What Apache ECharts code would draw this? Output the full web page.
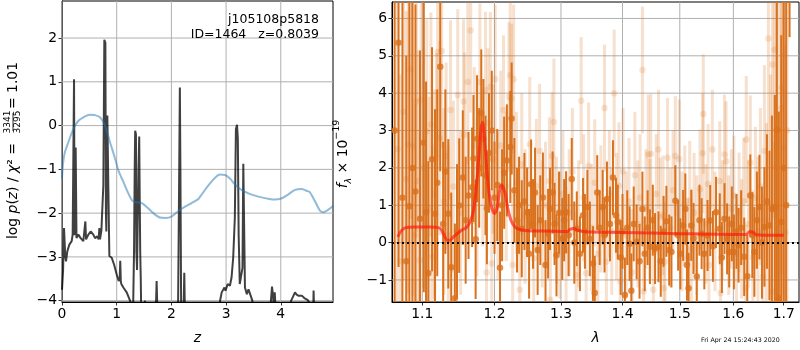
<!DOCTYPE html>
<html><head><meta charset="utf-8">
<script src="https://cdn.jsdelivr.net/npm/echarts@6/dist/echarts.min.js"></script>
<style>html,body{margin:0;padding:0;background:#fff}#c{width:800px;height:350px}</style>
</head><body><div id="c"></div><script>
// ---------- Left panel: redshift PDF ----------
const zGrid = [0.0,0.02,0.037,0.05,0.06,0.073,0.098,0.134,0.177,0.195,0.21,0.22,0.23,0.238,0.25,0.256,0.265,0.274,0.299,0.341,0.39,0.41,0.427,0.44,0.445,0.482,0.524,0.573,0.604,0.646,0.67,0.683,0.695,0.707,0.72,0.732,0.756,0.774,0.793,0.803,0.811,0.82,0.829,0.845,0.854,0.86,0.866,0.909,0.951,1.0,1.037,1.055,1.065,1.075,1.085,1.122,1.183,1.213,1.244,1.274,1.3,1.317,1.33,1.338,1.352,1.36,1.372,1.384,1.398,1.412,1.42,1.43,1.44,1.451,1.5,1.518,1.535,1.71,1.73,1.75,2.12,2.14,2.155,2.165,2.18,2.22,2.236,2.25,2.85,2.89,2.92,2.97,2.99,3.03,3.07,3.10,3.13,3.16,3.18,3.20,3.215,3.23,3.25,3.28,3.30,3.315,3.33,3.345,3.38,3.41,3.44,3.48,3.52,3.8,3.82,3.84,3.855,3.87,3.89,3.91,4.15,4.19,4.22,4.26,4.29,4.33,4.39,4.43,4.49,4.55,4.59,4.60,4.615,4.95];
const logPz = [-3.75,-3.3,-2.34,-2.35,-3.0,-3.1,-2.87,-2.72,-2.64,-2.49,-2.5,1.06,-2.5,-2.42,-0.5,-0.53,-2.57,-2.57,-2.49,-2.57,-2.64,-2.6,-2.19,-2.6,-2.57,-2.49,-2.42,-2.49,-2.57,-2.53,-2.6,-2.34,-2.6,-2.57,-2.4,-2.42,-1.36,1.96,1.89,-2.0,-2.42,0.1,0.23,0.2,0.19,-2.5,-2.98,-3.02,-3.17,-3.4,-3.55,-3.5,-3.09,-3.55,-3.62,-3.7,-3.81,-3.77,-4.0,-4.15,-4.2,-2.87,-0.9,-0.12,-0.2,-2.87,-3.3,-3.28,-1.0,-0.25,-1.5,-2.87,-3.5,-4.5,-4.3,-4.0,-4.5,-4.5,-3.55,-4.5,-4.5,-1.5,0.87,-1.0,-4.5,-4.4,-3.36,-4.5,-4.5,-4.0,-3.81,-3.7,-3.77,-3.62,-3.66,-3.47,-3.02,-2.11,-0.08,0.02,-0.3,-2.49,-3.62,-3.62,-3.25,-0.87,-0.87,-3.7,-3.85,-3.74,-3.85,-4.0,-4.5,-4.5,-4.0,-3.68,-3.85,-4.1,-3.81,-4.3,-4.3,-4.0,-3.92,-3.81,-3.86,-3.89,-3.89,-3.94,-3.98,-4.1,-4.5,-3.77,-4.5,-4.5];
const zChi = [0,0.02,0.055,0.116,0.207,0.3,0.39,0.51,0.6,0.695,0.787,0.878,0.97,1.03,1.12,1.213,1.29,1.366,1.457,1.56,1.67,1.79,1.9,2.0,2.13,2.25,2.37,2.49,2.55,2.68,2.8,2.89,2.98,3.07,3.16,3.28,3.41,3.53,3.65,3.77,3.89,4.02,4.14,4.26,4.38,4.47,4.53,4.63,4.72,4.78,4.87,4.96];
const chiScaled = [-1.2,-0.85,-0.6,-0.38,-0.08,0.11,0.19,0.25,0.24,0.19,0.0,-0.38,-0.75,-1.02,-1.28,-1.55,-1.72,-1.75,-1.77,-1.87,-2.0,-2.1,-2.11,-2.08,-1.95,-1.85,-1.77,-1.68,-1.58,-1.36,-1.19,-1.12,-1.13,-1.21,-1.34,-1.47,-1.55,-1.6,-1.64,-1.67,-1.69,-1.66,-1.57,-1.47,-1.45,-1.49,-1.52,-1.74,-1.95,-1.98,-1.92,-1.83];
const zTicks = [0,1,2,3,4];
const pTicks = [-4,-3,-2,-1,0,1,2];
const zRange = [0, 4.955];
const pRange = [-4.03, 2.846];

// ---------- Right panel: spectrum ----------
const darkLam = [1.064,1.069,1.074,1.079,1.083,1.087,1.091,1.097,1.102,1.105,
1.108,1.113,1.117,1.120,1.124,1.128,1.131,1.135,1.139,1.144,
1.147,1.150,1.155,1.159,1.163,1.168,1.170,1.173,1.175,1.178,
1.181,1.184,1.187,1.189,1.192,1.196,1.200,1.204,1.208,1.211,
1.214,1.218,1.223,1.225,1.229,1.233,1.236,1.240,1.244,1.248,
1.251,1.254,1.257,1.260,1.264,1.268,1.272,1.276,1.280,1.283,
1.287,1.290,1.293,1.297,1.302,1.305,1.308,1.312,1.317,1.321,
1.325,1.330,1.335,1.338,1.342,1.346,1.351,1.354,1.358,1.362,
1.367,1.370,1.374,1.379,1.384,1.389,1.392,1.397,1.400,1.404,
1.408,1.412,1.415,1.419,1.424,1.429,1.434,1.438,1.443,1.447,
1.452,1.456,1.462,1.466,1.471,1.476,1.481,1.485,1.492,1.497,
1.501,1.506,1.510,1.513,1.516,1.521,1.525,1.531,1.536,1.540,
1.545,1.551,1.556,1.561,1.567,1.574,1.578,1.583,1.588,1.592,
1.597,1.601,1.606,1.610,1.615,1.621,1.627,1.633,1.637,1.641,
1.646,1.651,1.656,1.661,1.666,1.671,1.676,1.682,1.686,1.690,
1.695,1.700,1.705,1.712];
const darkFlux = [3.0,5.35,1.2,-0.5,0.97,2.0,1.37,0.64,2.67,0.81,
-0.82,2.23,0.77,1.6,4.71,0.5,1.9,0.77,-0.66,-1.49,
0.3,0.99,1.74,0.6,1.26,1.48,2.25,0.09,2.78,2.0,
3.47,2.78,1.8,0.92,2.4,3.0,1.2,1.54,-0.67,1.0,
1.87,2.2,2.56,3.32,1.4,0.6,1.0,0.37,1.1,0.81,
-0.3,1.56,0.5,1.34,-0.2,0.6,1.21,-0.6,0.24,0.9,
1.34,0.5,-0.34,0.8,0.1,0.6,0.81,0.2,1.7,0.0,
0.37,-0.3,0.73,0.3,0.95,0.1,-0.56,-1.35,1.34,0.4,
0.95,0.2,1.17,0.5,1.74,0.73,0.55,-0.4,0.3,-1.4,
0.4,-0.03,-1.29,0.5,0.02,-0.5,0.9,-0.3,0.4,-0.11,
0.6,-0.16,-0.11,-0.5,0.3,0.57,-0.2,-0.25,1.12,0.2,
-0.3,0.46,0.9,-0.6,-1.22,0.46,0.11,-0.91,0.6,0.24,
-0.3,0.19,0.59,-0.1,0.81,0.37,-0.4,0.64,0.1,-0.25,
0.5,-0.25,0.3,-0.07,0.4,-0.38,-0.9,1.26,0.2,-0.25,
0.6,0.95,0.0,0.42,1.1,0.46,0.9,0.95,3.02,-1.49,
0.55,2.0,1.0,9.0];
const darkErr = [6,6,5.5,5.5,5.5,5,5,4.5,4,3.5,
3,3,2.8,2.5,2.8,2.2,2.2,2,2,2,
1.8,1.8,1.8,1.7,1.7,1.6,1.7,1.6,1.7,1.6,
1.7,1.6,1.6,1.5,1.6,1.6,1.5,1.5,1.5,1.5,
1.5,1.5,1.5,1.5,1.4,1.4,1.3,1.3,1.3,1.2,
1.2,1.2,1.2,1.2,1.2,1.2,1.2,1.2,1.2,1.1,
1.1,1.1,1.1,1.1,1.1,1.1,1.1,1.1,1.1,1.1,
1,1,1,1,1,1,1,1,1,1,
1,1,1,1,1,1,1,1,1,1,
1,1,1,1,1,1,1,1,1,1,
0.95,0.95,0.95,0.95,0.95,0.95,0.95,0.95,0.95,0.95,
0.95,0.95,0.95,0.95,0.95,0.95,0.95,0.95,0.95,0.95,
0.95,0.95,0.95,0.95,0.95,0.95,0.95,0.95,0.95,0.95,
1,1,1,1,1,1.05,1.1,1.1,1.15,1.2,
1.3,1.4,1.5,1.6,1.8,2.0,2.5,3.0,5.0,5.0,
5,6,6,3.5];
const lightLam = [1.0675,1.0715,1.0755,1.0790,1.0815,1.0845,1.0875,1.0905,1.0925,1.0945,
1.0965,1.0985,1.1015,1.1060,1.1090,1.1115,1.1135,1.1165,1.1190,1.1205,
1.1235,1.1260,1.1290,1.1320,1.1350,1.1380,1.1420,1.1480,1.1520,1.1560,
1.1575,1.1620,1.1660,1.1710,1.1750,1.1790,1.1830,1.1870,1.1885,1.1905,
1.1940,1.1960,1.1980,1.2010,1.2050,1.2090,1.2130,1.2170,1.2210,1.2230,
1.2250,1.2265,1.2280,1.2320,1.2370,1.2400,1.2450,1.2520,1.2580,1.2620,
1.2670,1.2710,1.2760,1.2820,1.2835,1.2860,1.2890,1.2930,1.2980,1.3030,
1.3080,1.3130,1.3180,1.3240,1.3280,1.3320,1.3360,1.3400,1.3440,1.3490,
1.3540,1.3590,1.3640,1.3700,1.3730,1.3780,1.3820,1.3860,1.3900,1.3940,
1.3960,1.4010,1.4060,1.4110,1.4160,1.4210,1.4260,1.4300,1.4340,1.4360,
1.4400,1.4440,1.4470,1.4485,1.4530,1.4580,1.4620,1.4650,1.4700,1.4715,
1.4735,1.4780,1.4830,1.4880,1.4920,1.4990,1.5040,1.5090,1.5140,1.5180,
1.5210,1.5260,1.5310,1.5370,1.5420,1.5430,1.5480,1.5520,1.5535,1.5600,
1.5650,1.5740,1.5755,1.5790,1.5830,1.5860,1.5910,1.5960,1.6010,1.6060,
1.6110,1.6160,1.6200,1.6240,1.6250,1.6290,1.6330,1.6380,1.6430,1.6480,
1.6530,1.6580,1.6610,1.6650,1.6690,1.6730,1.6770,1.6780,1.6810,1.6850,
1.6900,1.6950,1.6960,1.6990,1.7030,1.7070];
const lightFlux = [2.5,-0.5,3.5,1.7,2.63,4.63,2.58,0.2,3.78,1.65,
-0.47,3.82,2.0,2.98,0.9,3.16,-0.38,1.3,2.27,5.1,
2.8,5.13,1.1,2.32,0.2,3.55,1.5,3.95,0.8,3.78,
2.89,4.3,5.68,2.6,1.2,4.3,2.0,4.08,-0.8,3.2,
4.17,-0.56,2.23,4.37,1.0,2.6,3.55,1.5,3.9,4.48,
3.86,-0.6,4.37,1.6,-1.26,2.1,0.7,2.63,-0.42,1.51,
2.45,0.5,1.0,1.65,-1.53,2.32,3.23,0.6,0.2,1.3,
-0.2,0.8,1.9,-0.87,0.5,3.8,1.2,-0.82,2.05,0.4,
1.6,-0.3,0.9,3.6,-0.51,1.3,0.3,4.0,0.7,1.52,
-1.04,1.9,0.2,1.1,-0.8,1.8,0.5,1.2,4.62,-1.31,
0.9,2.36,0.64,2.38,-1.26,1.3,2.49,0.68,0.73,-1.22,
-0.51,2.27,0.4,1.4,2.32,2.23,0.3,1.0,-0.4,1.12,
-0.16,0.8,0.2,1.43,2.39,3.44,0.5,1.57,-0.6,2.49,
0.3,1.65,-1.35,0.6,2.36,2.18,0.2,0.9,1.26,-0.3,
0.81,0.1,1.1,-1.22,2.76,0.5,2.14,-0.4,1.2,0.3,
1.5,-0.91,2.45,0.6,5.46,1.0,4.77,-1.31,5.16,2.0,
3.0,3.6,4.15,2.52,0.28,3.0];
const lightErr = [5,5,4.5,4.5,4,4,4,3.5,3.5,3.5,
3.5,3.5,3.2,3,3,3,3,2.8,2.8,2.8,
2.6,2.6,2.5,2.5,2.4,2.4,2.3,2.3,2.2,2.2,
2.2,2.2,2.2,2.1,2.1,2.1,2.1,2.1,2,2,
2,2,2,2,2,2,2,2,2,2,
2,2,2,1.9,1.9,1.9,1.8,1.8,1.8,1.8,
1.8,1.7,1.7,1.7,1.7,1.7,1.7,1.7,1.7,1.7,
1.7,1.7,1.7,1.7,1.7,1.7,1.7,1.7,1.7,1.7,
1.7,1.7,1.7,1.7,1.7,1.7,1.7,1.7,1.7,1.7,
1.7,1.7,1.7,1.7,1.7,1.7,1.7,1.7,1.7,1.7,
1.6,1.6,1.6,1.6,1.6,1.6,1.6,1.6,1.6,1.6,
1.6,1.6,1.6,1.6,1.6,1.6,1.6,1.6,1.6,1.6,
1.6,1.6,1.6,1.6,1.6,1.6,1.6,1.6,1.6,1.6,
1.6,1.6,1.6,1.6,1.6,1.6,1.6,1.6,1.6,1.6,
1.6,1.6,1.7,1.7,1.7,1.7,1.8,1.8,1.9,2.0,
2.1,2.2,2.3,2.6,3,3.5,4,4,4.5,5,
5,5,5,5,5,6];
const modelLam = [1.068,1.072,1.078,1.09,1.10,1.11,1.118,1.124,1.128,1.133,1.137,1.142,1.148,1.155,1.16,1.165,1.17,1.174,1.178,1.181,1.183,1.186,1.19,1.195,1.2,1.204,1.207,1.21,1.215,1.219,1.224,1.23,1.237,1.25,1.28,1.31,1.315,1.32,1.326,1.34,1.4,1.5,1.6,1.625,1.632,1.638,1.645,1.66,1.70];
const modelFlux = [0.15,0.3,0.4,0.42,0.42,0.42,0.41,0.38,0.25,0.07,0.06,0.15,0.25,0.35,0.4,0.55,0.85,1.5,2.4,3.1,3.22,2.7,1.7,1.0,0.78,0.95,1.35,1.55,1.35,0.95,0.6,0.42,0.35,0.32,0.31,0.3,0.36,0.38,0.33,0.29,0.27,0.24,0.22,0.22,0.3,0.28,0.21,0.2,0.2];
const lamTicks = [1.1,1.2,1.3,1.4,1.5,1.6,1.7];
const fTicks = [-1,0,1,2,3,4,5,6];
const lamRange = [1.0606, 1.7316];
const fRange = [-1.59, 6.44];

// ---------- build ----------
const FONT = 'DejaVu Sans';
const DARK = '#d9711d';
const LIGHT = 'rgba(217,113,29,0.22)';
const GRIDC = '#b0b0b0';
const lg = v => Math.log10(v);
const zip = (a, b) => a.map((v, i) => [v, b[i]]);
const minus = s => String(s).replace('-', '\u2212');

function axisCommon(ticks, fmt) {
  return {
    axisLine: {show: true, onZero: false, lineStyle: {color: '#000', width: 1}},
    axisTick: {show: true, length: 3.5, lineStyle: {color: '#000', width: 0.8}, customValues: ticks},
    axisLabel: {color: '#000', fontFamily: FONT, fontSize: 13.9, margin: 5, customValues: ticks, formatter: fmt},
    splitLine: {show: false}
  };
}
// grid lines: one broken line series per panel, at the tick values, spanning the axis range
function gridSeries(idx, xs, ys, xr, yr) {
  const d = [];
  xs.forEach(v => { d.push([v, yr[0]], [v, yr[1]], [v, '-']); });
  ys.forEach(v => { d.push([xr[0], v], [xr[1], v], ['-', v]); });
  return {type: 'line', xAxisIndex: idx, yAxisIndex: idx, data: d, symbol: 'none',
    connectNulls: false, clip: true, z: 10,
    lineStyle: {color: GRIDC, width: 1}};
}
function barRender(color, w) {
  return function (params, api) {
    const x = api.value(0), lo = api.value(1), hi = api.value(2);
    const p1 = api.coord([x, lo]), p2 = api.coord([x, hi]);
    const cs = params.coordSys;
    const r = echarts.graphic.clipRectByRect(
      {x: p1[0] - w / 2, y: p2[1], width: w, height: p1[1] - p2[1]},
      {x: cs.x, y: cs.y, width: cs.width, height: cs.height});
    if (!r) return null;
    return {type: 'rect', shape: r, style: {fill: color}};
  };
}
const barData = (lam, f, e) => lam.map((l, i) => [lg(l), f[i] - e[i], f[i] + e[i]]);
const dotData = (lam, f) => lam.map((l, i) => [lg(l), f[i]]);

const chart = echarts.init(document.getElementById('c'), null, {renderer: 'canvas'});
chart.setOption({
  animation: false,
  backgroundColor: '#fff',
  grid: [
    {left: 62, top: 1, right: 467, bottom: 46, show: true, backgroundColor: 'transparent', borderColor: '#000', borderWidth: 1},
    {left: 392, top: 2, right: 1, bottom: 46, show: true, backgroundColor: 'transparent', borderColor: '#000', borderWidth: 1}
  ],
  xAxis: [
    Object.assign({type: 'value', gridIndex: 0, min: zRange[0], max: zRange[1],
      name: 'z', nameLocation: 'middle', nameGap: 29,
      nameTextStyle: {fontFamily: FONT, fontSize: 13.9, fontStyle: 'italic', color: '#000'}},
      axisCommon(zTicks, v => minus(v))),
    Object.assign({type: 'value', gridIndex: 1, min: lg(lamRange[0]), max: lg(lamRange[1]),
      name: 'λ', nameLocation: 'middle', nameGap: 29,
      nameTextStyle: {fontFamily: FONT, fontSize: 13.9, fontStyle: 'italic', color: '#000'}},
      axisCommon(lamTicks.map(lg), v => Math.pow(10, v).toFixed(1)))
  ],
  yAxis: [
    Object.assign({type: 'value', gridIndex: 0, min: pRange[0], max: pRange[1]}, axisCommon(pTicks, v => minus(v))),
    Object.assign({type: 'value', gridIndex: 1, min: fRange[0], max: fRange[1]}, axisCommon(fTicks, v => minus(v)))
  ],
  series: [
    gridSeries(0, zTicks, pTicks, zRange, pRange),
    gridSeries(1, lamTicks.map(lg), fTicks, lamRange.map(lg), fRange),
    {type: 'line', xAxisIndex: 0, yAxisIndex: 0, data: zip(zGrid, logPz), symbol: 'none',
      lineStyle: {color: 'rgba(0,0,0,0.75)', width: 2}, clip: true, z: 12},
    {type: 'line', xAxisIndex: 0, yAxisIndex: 0, data: zip(zChi, chiScaled), symbol: 'none', smooth: 0.3,
      lineStyle: {color: 'rgba(31,119,180,0.5)', width: 2}, clip: true, z: 12},
    {type: 'custom', xAxisIndex: 1, yAxisIndex: 1, data: barData(lightLam, lightFlux, lightErr),
      renderItem: barRender(LIGHT, 3), encode: {x: 0, y: [1, 2]}, z: 11},
    {type: 'scatter', xAxisIndex: 1, yAxisIndex: 1, data: dotData(lightLam, lightFlux), symbolSize: 6.5,
      itemStyle: {color: LIGHT}, clip: true, z: 11},
    {type: 'custom', xAxisIndex: 1, yAxisIndex: 1, data: barData(darkLam, darkFlux, darkErr),
      renderItem: barRender(DARK, 2), encode: {x: 0, y: [1, 2]}, z: 12},
    {type: 'scatter', xAxisIndex: 1, yAxisIndex: 1, data: dotData(darkLam, darkFlux), symbolSize: 6.5,
      itemStyle: {color: DARK}, clip: true, z: 12},
    {type: 'line', xAxisIndex: 1, yAxisIndex: 1, data: dotData(modelLam, modelFlux), symbol: 'none', smooth: 0.3,
      lineStyle: {color: 'rgba(255,20,10,0.65)', width: 3}, clip: true, z: 13,
      markLine: {silent: true, symbol: 'none', label: {show: false}, z: 14,
        lineStyle: {color: '#000', type: [2, 3], width: 2}, data: [{yAxis: 0}]}}
  ],
  graphic: [
    {type: 'text', x: 319, y: 20, z: 20, style: {text: 'j105108p5818', font: '12.5px "DejaVu Sans"', fill: '#000', align: 'right', verticalAlign: 'middle'}},
    {type: 'text', x: 319, y: 35, z: 20, style: {text: 'ID=1464   z=0.8039', font: '12.5px "DejaVu Sans"', fill: '#000', align: 'right', verticalAlign: 'middle'}},
    {type: 'group', x: 13, y: 153, rotation: Math.PI / 2, children: [
      {type: 'text', x: -86, y: 0, style: {
        text: '{a|log }{i|p}{a|(}{i|z}{a|) / }{i|χ}{a|² =}',
        rich: {a: {fontFamily: FONT, fontSize: 13.9, fill: '#000'}, i: {fontFamily: FONT, fontSize: 13.9, fontStyle: 'italic', fill: '#000'}},
        align: 'left', verticalAlign: 'middle'}},
      {type: 'text', x: 31, y: -5, style: {text: '3341', font: '9px "DejaVu Sans"', fill: '#000', align: 'center', verticalAlign: 'middle'}},
      {type: 'rect', shape: {x: 22, y: -0.4, width: 18, height: 0.8}, style: {fill: '#000'}},
      {type: 'text', x: 31, y: 5, style: {text: '3295', font: '9px "DejaVu Sans"', fill: '#000', align: 'center', verticalAlign: 'middle'}},
      {type: 'text', x: 44, y: 0, style: {text: '= 1.01', font: '13.9px "DejaVu Sans"', fill: '#000', align: 'left', verticalAlign: 'middle'}}
    ]},
    {type: 'group', x: 343, y: 154, rotation: Math.PI / 2, children: [
      {type: 'text', x: 0, y: 0, style: {
        text: '{i|f}{sub|λ}{a| × 10}{sup|−19}',
        rich: {
          i: {fontFamily: FONT, fontSize: 13.9, fontStyle: 'italic', fill: '#000', lineHeight: 22},
          a: {fontFamily: FONT, fontSize: 13.9, fill: '#000', lineHeight: 22},
          sub: {fontFamily: FONT, fontSize: 9.5, fontStyle: 'italic', fill: '#000', verticalAlign: 'bottom', lineHeight: 12},
          sup: {fontFamily: FONT, fontSize: 9.5, fill: '#000', verticalAlign: 'top', lineHeight: 12}
        },
        align: 'center', verticalAlign: 'middle'}}
    ]},
    {type: 'text', x: 701, y: 340, style: {text: 'Fri Apr 24 15:24:43 2020', font: '6.3px "DejaVu Sans"', fill: '#000', align: 'left', verticalAlign: 'middle'}}
  ]
});
</script></body></html>
